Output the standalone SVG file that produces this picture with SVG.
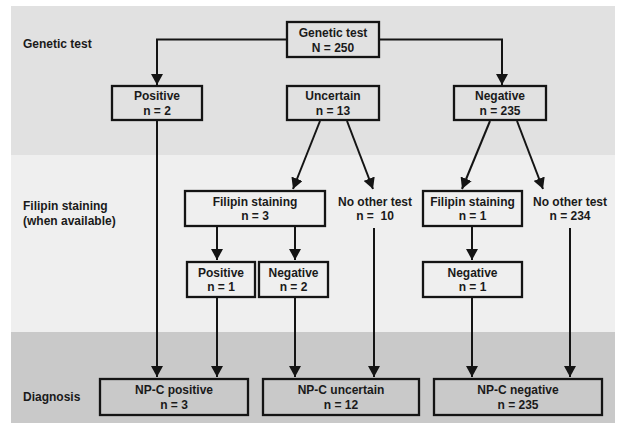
<svg xmlns="http://www.w3.org/2000/svg" width="619" height="425" viewBox="0 0 619 425">
<style>
.box{fill:none;stroke:#141414;stroke-width:2.3}
.t{font-family:"Liberation Sans",Arial,sans-serif;font-weight:bold;font-size:12px;fill:#1a1a1a}
.c{text-anchor:middle}
.ln{fill:none;stroke:#141414;stroke-width:2;marker-end:url(#ah)}
</style>
<defs>
<marker id="ah" viewBox="0 0 11 12" refX="11" refY="6" markerWidth="11" markerHeight="12" markerUnits="userSpaceOnUse" orient="auto">
<path d="M0,0 L11,6 L0,12 Z" fill="#141414"/>
</marker>
</defs>
<rect x="0" y="0" width="619" height="425" fill="#ffffff"/>
<rect x="11" y="6" width="604" height="149" fill="#e1e1e1"/>
<rect x="11" y="155" width="604" height="177" fill="#efefef"/>
<rect x="11" y="332" width="604" height="91" fill="#c9c9c9"/>
<g id="labels">
<text class="t" x="23" y="48">Genetic test</text>
<text class="t" x="23" y="210">Filipin staining</text>
<text class="t" x="23" y="225">(when available)</text>
<text class="t" x="23" y="401">Diagnosis</text>
</g>
<g id="connectors">
<path class="ln" d="M287,39.5 H157 V85"/>
<path class="ln" d="M379,39.5 H502 V85"/>
<path class="ln" d="M320,121 L293,189"/>
<path class="ln" d="M347,121 L373,189"/>
<path class="ln" d="M490,121 L462,189"/>
<path class="ln" d="M517,121 L543,189"/>
<path class="ln" d="M217,227 V260"/>
<path class="ln" d="M295,227 V260"/>
<path class="ln" d="M472,227 V260"/>
<path class="ln" d="M157,121 V377"/>
<path class="ln" d="M217,298 V377"/>
<path class="ln" d="M295,298 V377"/>
<path class="ln" d="M374,228 V377"/>
<path class="ln" d="M472,298 V377"/>
<path class="ln" d="M570,228 V377"/>
</g>
<g id="genetic-test">
<rect class="box" x="287" y="22" width="92" height="35"/>
<text class="t c" x="333" y="36.5">Genetic test</text>
<text class="t c" x="333" y="51.5">N = 250</text>
</g>
<g id="positive">
<rect class="box" x="112" y="86" width="90" height="34"/>
<text class="t c" x="157" y="100">Positive</text>
<text class="t c" x="157" y="114.5">n = 2</text>
</g>
<g id="uncertain">
<rect class="box" x="287" y="86" width="92" height="34"/>
<text class="t c" x="333" y="100">Uncertain</text>
<text class="t c" x="333" y="114.5">n = 13</text>
</g>
<g id="negative">
<rect class="box" x="454" y="86" width="92" height="34"/>
<text class="t c" x="500" y="100">Negative</text>
<text class="t c" x="500" y="114.5">n = 235</text>
</g>
<g id="filipin-3">
<rect class="box" x="185" y="191" width="140" height="35"/>
<text class="t c" x="255" y="205.5">Filipin staining</text>
<text class="t c" x="255" y="220">n = 3</text>
</g>
<g id="no-other-10">
<text class="t c" x="375" y="205.5">No other test</text>
<text class="t c" x="375" y="220" xml:space="preserve">n =  10</text>
</g>
<g id="filipin-1">
<rect class="box" x="423" y="191" width="99" height="35"/>
<text class="t c" x="472.5" y="205.5">Filipin staining</text>
<text class="t c" x="472.5" y="220">n = 1</text>
</g>
<g id="no-other-234">
<text class="t c" x="570" y="205.5">No other test</text>
<text class="t c" x="570" y="220">n = 234</text>
</g>
<g id="positive-1">
<rect class="box" x="187" y="262" width="68" height="35"/>
<text class="t c" x="221" y="276.5">Positive</text>
<text class="t c" x="221" y="291">n = 1</text>
</g>
<g id="negative-2">
<rect class="box" x="259" y="262" width="69" height="35"/>
<text class="t c" x="293.5" y="276.5">Negative</text>
<text class="t c" x="293.5" y="291">n = 2</text>
</g>
<g id="negative-1">
<rect class="box" x="423" y="262" width="99" height="35"/>
<text class="t c" x="472.5" y="276.5">Negative</text>
<text class="t c" x="472.5" y="291">n = 1</text>
</g>
<g id="npc-positive">
<rect class="box" x="100" y="379" width="148" height="36"/>
<text class="t c" x="174" y="394">NP-C positive</text>
<text class="t c" x="174" y="409">n = 3</text>
</g>
<g id="npc-uncertain">
<rect class="box" x="263" y="379" width="156" height="36"/>
<text class="t c" x="341" y="394">NP-C uncertain</text>
<text class="t c" x="341" y="409">n = 12</text>
</g>
<g id="npc-negative">
<rect class="box" x="434" y="379" width="168" height="36"/>
<text class="t c" x="518" y="394">NP-C negative</text>
<text class="t c" x="518" y="409">n = 235</text>
</g>
</svg>
